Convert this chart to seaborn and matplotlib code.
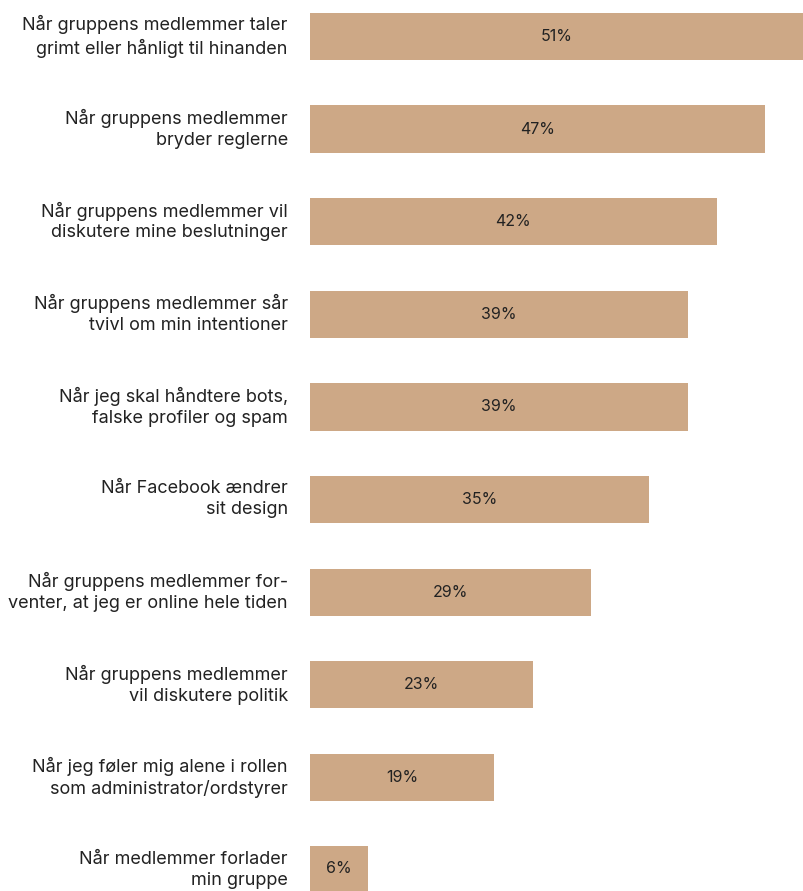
import matplotlib
matplotlib.use("Agg")
import matplotlib.pyplot as plt
import matplotlib.transforms as mtransforms
import seaborn as sns
import pandas as pd

categories = [
    "Når gruppens medlemmer taler\ngrimt eller hånligt til hinanden",
    "Når gruppens medlemmer\nbryder reglerne",
    "Når gruppens medlemmer vil\ndiskutere mine beslutninger",
    "Når gruppens medlemmer sår\ntvivl om min intentioner",
    "Når jeg skal håndtere bots,\nfalske profiler og spam",
    "Når Facebook ændrer\nsit design",
    "Når gruppens medlemmer for-\nventer, at jeg er online hele tiden",
    "Når gruppens medlemmer\nvil diskutere politik",
    "Når jeg føler mig alene i rollen\nsom administrator/ordstyrer",
    "Når medlemmer forlader\nmin gruppe",
]
values = [51, 47, 42, 39, 39, 35, 29, 23, 19, 6]

sns.set_theme(style="white")
plt.rcParams["font.family"] = ["Inter", "DejaVu Sans"]

df = pd.DataFrame({"kategori": categories, "andel": values})

fig = plt.figure(figsize=(8.04, 8.91), dpi=100)
ax = fig.add_axes([310 / 804, 0, 494 / 804, 1])

sns.barplot(data=df, y="kategori", x="andel", orient="h", color="#CDA886",
            saturation=1, width=0.51, linewidth=0, ax=ax)

ax.bar_label(ax.containers[0], labels=[f"{v}%" for v in values],
             label_type="center", fontsize=11.5, color="#222222")

ax.set_xlim(0, 51)
ax.set_ylim(9.227, -0.394)
ax.set_xlabel("")
ax.set_ylabel("")
ax.set_xticks([])
ax.tick_params(axis="y", length=0, pad=16, labelsize=13, labelcolor="#222222")
lift = mtransforms.ScaledTranslation(0, 3 / 72, fig.dpi_scale_trans)
for lbl in ax.get_yticklabels():
    lbl.set_horizontalalignment("right")
    lbl.set_multialignment("right")
    lbl.set_linespacing(1.3)
    lbl.set_transform(lbl.get_transform() + lift)
sns.despine(ax=ax, left=True, bottom=True)

fig.savefig("out.png", dpi=100, facecolor="white")
